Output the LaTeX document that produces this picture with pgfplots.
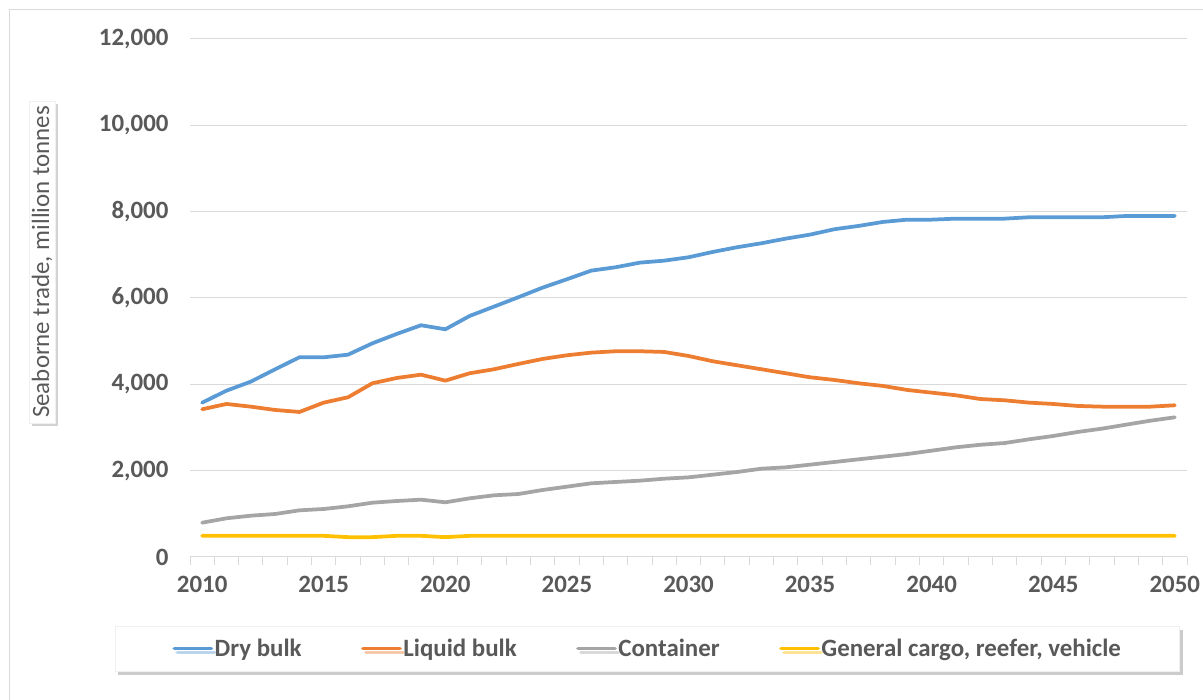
\documentclass[border=0pt]{standalone}
\usepackage{fontspec}
\setmainfont{Carlito}
\usepackage{pgfplots}
\pgfplotsset{compat=1.18}
\usetikzlibrary{shadows}
\definecolor{txt}{HTML}{595959}
\definecolor{gridc}{HTML}{D9D9D9}
\definecolor{dry}{HTML}{5B9BD5}
\definecolor{liq}{HTML}{ED7D31}
\definecolor{cont}{HTML}{A5A5A5}
\definecolor{gen}{HTML}{FFC000}
\pgfplotstableread{
year dry liquid container general
2010 3575 3422 795 490
2011 3853 3545 896 490
2012 4062 3483 957 490
2013 4348 3406 996 490
2014 4626 3360 1081 490
2015 4626 3576 1112 490
2016 4687 3700 1174 460
2017 4950 4024 1258 460
2018 5167 4147 1297 490
2019 5368 4224 1328 490
2020 5275 4085 1267 460
2021 5584 4256 1359 490
2022 5800 4349 1429 490
2023 6017 4472 1459 490
2024 6240 4588 1552 490
2025 6434 4673 1629 490
2026 6634 4734 1707 490
2027 6712 4766 1738 490
2028 6819 4766 1768 490
2029 6865 4750 1814 490
2030 6943 4657 1845 490
2031 7067 4534 1907 490
2032 7176 4441 1969 490
2033 7268 4349 2046 490
2034 7375 4256 2077 490
2035 7468 4163 2139 490
2036 7593 4101 2201 490
2037 7670 4024 2263 490
2038 7762 3962 2324 490
2039 7815 3869 2386 490
2040 7815 3807 2463 490
2041 7838 3746 2541 490
2042 7838 3660 2600 490
2043 7838 3630 2640 490
2044 7870 3576 2726 490
2045 7870 3545 2803 490
2046 7870 3499 2896 490
2047 7870 3483 2973 490
2048 7900 3483 3066 490
2049 7900 3483 3158 490
2050 7900 3514 3236 490
}\datatable
\begin{document}
\begin{tikzpicture}[x=1bp,y=1bp]
\useasboundingbox (0,0) rectangle (1203,700);
\draw[gridc, line width=1bp] (9.5,-20) -- (9.5,690.5) -- (1230,690.5);
\begin{axis}[
  at={(190bp,143bp)}, anchor=south west,
  scale only axis, width=997bp, height=518bp,
  xmin=2009.5, xmax=2050.5, ymin=0, ymax=12000,
  axis x line*=bottom, axis y line*=left,
  y axis line style={draw=none},
  x axis line style={gridc, line width=1bp, -},
  xtick={2010,2015,...,2050},
  minor xtick={2009.5,2010.5,...,2050.5},
  ytick={0,2000,...,12000},
  scaled y ticks=false,
  tick align=outside,
  major tick length=0pt,
  minor tick length=8bp,
  minor tick style={gridc, line width=1bp},
  major tick style={draw=none},
  ymajorgrids,
  major grid style={gridc, line width=1bp},
  ticklabel style={font=\fontsize{25}{30}\selectfont\bfseries, text=txt},
  xticklabel style={/pgf/number format/1000 sep={}, yshift=-16bp},
  yticklabel style={/pgf/number format/fixed, /pgf/number format/1000 sep={,}, xshift=-18bp},
  /pgf/number format/assume math mode=true,
  ylabel={Seaborne trade, million tonnes},
  ylabel style={at={(rel axis cs:-0.1484,0.5695)}, anchor=center,
    font=\fontsize{25}{30}\selectfont, text=txt, fill=white,
    draw={rgb,255:red,240;green,240;blue,240},
    inner xsep=5bp, inner ysep=3bp,
    drop shadow={shadow xshift=3bp, shadow yshift=-3bp, opacity=0.35}},
  legend columns=4,
  legend style={at={(rel axis cs:0.4589,-0.1766)}, anchor=center,
    fill=white, draw={rgb,255:red,240;green,240;blue,240},
    drop shadow={shadow xshift=3bp, shadow yshift=-4bp, opacity=0.4},
    font=\fontsize{25}{30}\selectfont\bfseries, text=txt,
    inner xsep=57bp, inner ysep=11bp,
    nodes={inner xsep=1.5bp, inner ysep=2bp},
    /tikz/every even column/.append style={column sep=58bp}},
  legend image code/.code={\draw[#1, line width=3.75bp] (0bp,0bp) -- (37bp,0bp);},
  every axis plot/.append style={line width=3.75bp, line join=round, line cap=round, no markers},
]
\addplot[dry] table[x=year, y=dry] {\datatable};
\addlegendentry{Dry bulk}
\addplot[liq] table[x=year, y=liquid] {\datatable};
\addlegendentry{Liquid bulk}
\addplot[cont] table[x=year, y=container] {\datatable};
\addlegendentry{Container}
\addplot[gen] table[x=year, y=general] {\datatable};
\addlegendentry{General cargo, reefer, vehicle}
\end{axis}
\end{tikzpicture}
\end{document}
